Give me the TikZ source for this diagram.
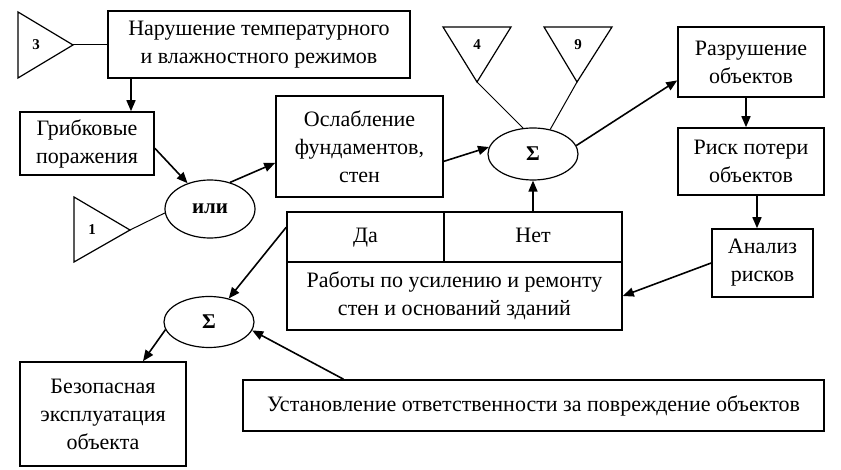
\documentclass[tikz,border=0pt]{standalone}
\usepackage{fontspec}
\setmainfont{Liberation Serif}
\usetikzlibrary{arrows.meta,shapes.geometric,calc}
\begin{document}
\begin{tikzpicture}[x=1pt,y=-1pt,
  box/.style={draw,line width=1.6pt,align=center,inner sep=2pt,font=\fontsize{22}{28}\selectfont},
  cell/.style={box,text height=15pt,text depth=4pt},
  oval/.style={draw,ellipse,line width=1.2pt,inner sep=0pt,font=\fontsize{21}{24}\selectfont\bfseries},
  tri/.style={draw,line width=1.2pt},
  num/.style={font=\fontsize{15}{17}\selectfont\bfseries,inner sep=0pt},
  arr/.style={line width=1.6pt,-{Triangle[length=11pt,width=9pt]}},
  thin/.style={line width=1pt}]
\useasboundingbox (0,0) rectangle (841,470);
% boxes
\node[box,minimum width=302pt,minimum height=67pt] (narush) at (259,44.5) {Нарушение температурного\\и влажностного режимов};
\node[box,minimum width=134pt,minimum height=63pt] (grib) at (87,143.5) {Грибковые\\поражения};
\node[box,minimum width=167pt,minimum height=101pt] (oslab) at (359.5,146.5) {Ослабление\\фундаментов,\\стен};
\node[box,minimum width=146pt,minimum height=70pt] (razr) at (751,62) {Разрушение\\объектов};
\node[box,minimum width=146pt,minimum height=67pt] (risk) at (751,161.5) {Риск потери\\объектов};
\node[box,minimum width=101pt,minimum height=68pt] (analiz) at (762.5,263) {Анализ\\рисков};
\node[cell,minimum width=157pt,minimum height=50pt] (da) at (365.5,237) {Да};
\node[cell,minimum width=178pt,minimum height=50pt] (net) at (533,237) {Нет};
\node[box,minimum width=335pt,minimum height=68pt] (raboty) at (454.5,296) {Работы по усилению и ремонту\\стен и оснований зданий};
\node[box,minimum width=166pt,minimum height=104pt] (bezop) at (103,414) {Безопасная\\эксплуатация\\объекта};
\node[box,minimum width=581pt,minimum height=51pt] (ustan) at (533.5,405.5) {Установление ответственности за повреждение объектов};
% ovals
\node[oval,minimum width=90pt,minimum height=58pt] (ili) at (210,209) {или};
\node[oval,minimum width=90pt,minimum height=52pt] (sig1) at (533,154) {Σ};
\node[oval,minimum width=90pt,minimum height=51pt] (sig2) at (209,322) {Σ};
% triangles
\draw[tri] (18,12) -- (18,78) -- (73,45) -- cycle;
\coordinate (t3) at (73,44.5);
\node[num] (n3) at (36,45) {3};
\draw[tri] (74,197) -- (74,262) -- (130,230) -- cycle;
\coordinate (t1) at (130,230);
\node[num] (n1) at (92,230) {1};
\draw[tri] (443,27) -- (511,27) -- (477,82) -- cycle;
\coordinate (t4) at (477,82);
\node[num] (n4) at (477,45) {4};
\draw[tri] (544,27) -- (612,27) -- (577,82) -- cycle;
\coordinate (t9) at (577,82);
\node[num] (n9) at (578,45) {9};
% connectors
\draw[line width=1.6pt] (t3) -- (narush.west);
\draw[arr] ([xshift=-128pt]narush.south) -- ([xshift=-128pt]narush.south |- grib.north);
\draw[arr] (grib.-4) -- (ili.131);
\draw[thin] (t1) -- (ili.185);
\draw[arr] (ili.53) -- (oslab.191);
\draw[arr] (oslab.-10) -- (sig1.171);
\draw[thin] (t4) -- (sig1.111);
\draw[thin] (t9) -- (sig1.55);
\draw[arr] (sig1.11) -- (razr.194);
\draw[arr] ([xshift=-5pt]razr.south) -- ([xshift=-5pt]razr.south |- risk.north);
\draw[arr] ([xshift=6pt]risk.south) -- ([xshift=6pt]risk.south |- analiz.north);
\draw[arr] (analiz.west) -- (raboty.east);
\draw[arr] (net.north) -- (sig1.south);
\draw[arr] (da.173) -- (sig2.50);
\draw[arr] (sig2.190) -- ([xshift=40pt]bezop.north);
\draw[arr] ([xshift=-190pt]ustan.north) -- (sig2.-11);
\end{tikzpicture}
\end{document}
